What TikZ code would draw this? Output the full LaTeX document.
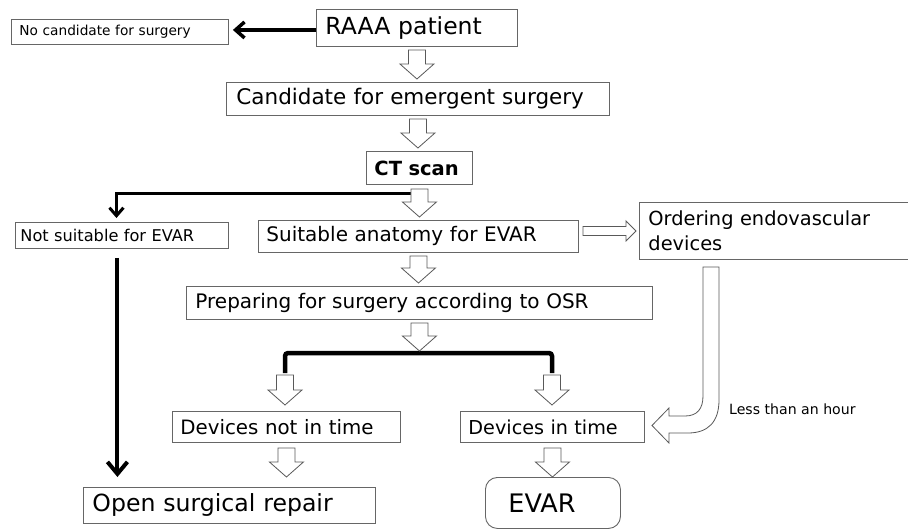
\documentclass[tikz,border=0pt]{standalone}
\usepackage{fontspec}
\setmainfont{DejaVu Sans}
\usetikzlibrary{arrows.meta,calc}
\newcommand\fsz[1]{\fontsize{#1}{#1}\selectfont}
\tikzset{
  box/.style={draw=black!60, line width=0.9pt, anchor=north west, inner ysep=0pt, align=left},
  blk/.style={draw=black!65, line width=0.8pt, fill=white, line join=miter},
  heavy/.style={line width=3.5pt, black, -{Straight Barb[length=9pt,width=16pt,line width=3.5pt]}},
  bracket/.style={line width=4.5pt, black, rounded corners=3pt},
}
% down block arrow: from #1 to #2, gap at top #3, gap at bottom #4 (x taken from #1)
\newcommand\blkdown[4]{%
  \draw[blk] let \p1=(#1), \p2=(#2) in
    (\x1-8.5pt,\y1-#3pt) -- (\x1-8.5pt,\y2+#4pt+15pt) -- (\x1-17pt,\y2+#4pt+15pt)
    -- (\x1,\y2+#4pt) -- (\x1+17pt,\y2+#4pt+15pt) -- (\x1+8.5pt,\y2+#4pt+15pt)
    -- (\x1+8.5pt,\y1-#3pt) -- cycle;}
% right block arrow: from #1 to #2 (y taken from #2)
\newcommand\blkright[4]{%
  \draw[blk] let \p1=(#1), \p2=(#2) in
    (\x1+#3pt,\y2+4.5pt) -- (\x2-#4pt-10pt,\y2+4.5pt) -- (\x2-#4pt-10pt,\y2+10pt)
    -- (\x2-#4pt,\y2) -- (\x2-#4pt-10pt,\y2-10pt) -- (\x2-#4pt-10pt,\y2-4.5pt)
    -- (\x1+#3pt,\y2-4.5pt) -- cycle;}
\begin{document}
\begin{tikzpicture}[x=1pt,y=-1pt]
\useasboundingbox (0,0) rectangle (908,530);
\clip (0,0) rectangle (908,530);
\fill[white] (0,0) rectangle (908,530);

% boxes
\node[box, minimum height=25pt, inner xsep=8pt, text width=201pt, font=\fsz{13.7}] (nocand) at (11,19) {\mbox{No candidate for surgery}};
\node[box, minimum height=37pt, inner xsep=9pt, text width=183pt, font=\fsz{23.5}] (raaa) at (316,9) {\mbox{RAAA patient}};
\node[box, minimum height=33pt, inner xsep=10pt, text width=363pt, font=\fsz{21.5}] (cand) at (226,82) {\mbox{Candidate for emergent surgery}};
\node[box, minimum height=33pt, inner xsep=8pt, text width=90pt, font=\fsz{19.5}\bfseries] (ct) at (366,151) {\mbox{CT scan}};
\node[box, minimum height=26pt, inner xsep=5pt, text width=203pt, font=\fsz{16.2}] (notsuit) at (15,222) {\mbox{Not suitable for EVAR}};
\node[box, minimum height=32pt, inner xsep=8pt, text width=304pt, font=\fsz{20}] (suit) at (258,220) {\mbox{Suitable anatomy for EVAR}};
\node[box, minimum height=57pt, inner xsep=9pt, text width=282pt, font=\fontsize{19.4}{25}\selectfont] (order) at (639,202) {Ordering endovascular\\devices};
\node[box, minimum height=33pt, inner xsep=9pt, text width=448pt, font=\fsz{20}] (prep) at (186,286) {\mbox{Preparing for surgery according to OSR}};
\node[box, minimum height=31pt, inner xsep=8pt, text width=212pt, font=\fsz{19.8}] (dnot) at (172,411) {\mbox{Devices not in time}};
\node[box, minimum height=31pt, inner xsep=8pt, text width=168pt, font=\fsz{19.2}] (din) at (460,411) {\mbox{Devices in time}};
\node[box, minimum height=36pt, inner xsep=9pt, text width=274pt, font=\fsz{23.6}] (open) at (83,487) {\mbox{Open surgical repair}};
\node[box, rounded corners=12pt, minimum height=51pt, inner xsep=23pt, text width=89pt, font=\fsz{25.5}] (evar) at (485,477) {\mbox{EVAR}};
\node[anchor=west, inner sep=0pt, font=\fsz{14.1}] (lbl) at (729,409) {Less than an hour};

% helper coordinates
\coordinate (brC) at (419,353);
\coordinate (brL) at (285,373);
\coordinate (brR) at (552,373);
\coordinate (nc) at ([xshift=4pt]nocand.east);
\coordinate (nsTop) at ([xshift=-5.5pt,yshift=4pt]notsuit.north);

% heavy black connectors
\draw[heavy] ([yshift=-2pt]raaa.west) coordinate (ra) -- (nc |- ra);
\draw[line width=3pt, -{Straight Barb[length=8pt,width=14pt,line width=3pt]}]
  ([yshift=-9pt]ct.south) -| (nsTop);
\draw[line width=4pt, -{Straight Barb[length=12pt,width=20pt,line width=4pt]}]
  ([xshift=-4.5pt,yshift=-9pt]notsuit.south) coordinate (nsb) -- ([yshift=10pt]open.north -| nsb);
\draw[bracket] (brL) |- (brC) -| (brR);

% block arrows
\blkdown{raaa.south}{cand.north}{3}{3}
\blkdown{cand.south}{ct.north}{3}{3}
\blkdown{ct.south}{suit.north}{4}{3}
\blkdown{suit.south}{prep.north}{3}{3}
\blkdown{prep.south}{brC}{3}{2}
\blkdown{brL}{dnot.north}{2}{6}
\blkdown{brR}{din.north}{2}{6}
\blkdown{dnot.south}{open.north}{5}{10}
\blkdown{din.south}{evar.north}{5}{0}
\blkright{suit.east}{order.west}{4}{3}

% curved block arrow from ordering box to devices in time
\draw[blk] (703,267) -- (703,396) .. controls (703,409) and (697,416) .. (685,416)
  -- (669,416) -- (669,408) -- (652,425.5) -- (669,443) -- (669,433) -- (688,433)
  .. controls (708,433) and (719,422) .. (719,400) -- (719,267) -- cycle;
\end{tikzpicture}
\end{document}
